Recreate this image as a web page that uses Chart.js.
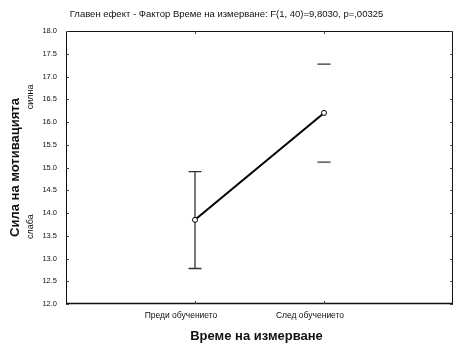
<!DOCTYPE html>
<html><head><meta charset="utf-8">
<script src="https://cdn.jsdelivr.net/npm/chart.js@4"></script>
<style>html,body{margin:0;padding:0;background:#fff;overflow:hidden}#wrap{width:454px;height:343px}</style>
</head><body><div id="wrap"><canvas id="c" width="454" height="343"></canvas></div>
<script>
const categories = ["Преди обучението", "След обучението"];
const means = [13.85, 16.2];
const upperLimits = [14.91, 17.27];
const lowerLimits = [12.78, 15.12];
const yTicks = [12.0, 12.5, 13.0, 13.5, 14.0, 14.5, 15.0, 15.5, 16.0, 16.5, 17.0, 17.5, 18.0];
const titleText = "Главен ефект - Фактор Време на измерване: F(1, 40)=9,8030, p=,00325";
const yTitle = "Сила на мотивацията";
const xTitle = "Време на измерване";
const yHighLabel = "силна";
const yLowLabel = "слаба";

const FONT = "'Liberation Sans', Arial, sans-serif";

const extras = {
  id: 'extras',
  beforeDatasetsDraw(chart) {
    const {ctx, scales: {x, y}} = chart;
    ctx.save();
    ctx.strokeStyle = '#333';
    ctx.lineWidth = 1.3;
    means.forEach((m, i) => {
      const px = x.getPixelForValue(i + 1);
      const pu = y.getPixelForValue(upperLimits[i]);
      const pl = y.getPixelForValue(lowerLimits[i]);
      ctx.beginPath();
      if (i === 0) { ctx.moveTo(px, pu); ctx.lineTo(px, pl); }
      ctx.moveTo(px - 6.5, pu); ctx.lineTo(px + 6.5, pu);
      ctx.moveTo(px - 6.5, pl); ctx.lineTo(px + 6.5, pl);
      ctx.stroke();
    });
    ctx.restore();
  },
  afterDraw(chart) {
    const {ctx, chartArea: a, scales: {x, y}} = chart;
    ctx.save();
    ctx.strokeStyle = '#111';
    ctx.lineWidth = 1;
    ctx.strokeRect(Math.round(a.left) + 0.5, Math.round(a.top) + 0.5, Math.round(a.right - a.left) - 1, Math.round(a.bottom - a.top) - 1);
    ctx.lineWidth = 1.5;
    ctx.beginPath();
    ctx.moveTo(a.left, a.bottom - 0.5); ctx.lineTo(a.right, a.bottom - 0.5);
    ctx.stroke();
    ctx.strokeStyle = '#444';
    ctx.lineWidth = 1;
    ctx.beginPath();
    yTicks.forEach(v => {
      const py = Math.round(y.getPixelForValue(v)) + 0.5;
      ctx.moveTo(a.left, py); ctx.lineTo(a.left + 3, py);
      ctx.moveTo(a.right, py); ctx.lineTo(a.right - 3, py);
    });
    categories.forEach((c, i) => {
      const px = Math.round(x.getPixelForValue(i + 1)) + 0.5;
      ctx.moveTo(px, a.top); ctx.lineTo(px, a.top + 3);
      ctx.moveTo(px, a.bottom); ctx.lineTo(px, a.bottom - 3);
    });
    ctx.stroke();
    ctx.fillStyle = '#111';
    ctx.textAlign = 'center';
    ctx.textBaseline = 'middle';
    ctx.font = 'bold 13px ' + FONT;
    ctx.fillText(xTitle, (a.left + a.right) / 2 - 3, 336);
    ctx.save();
    ctx.translate(15, (a.top + a.bottom) / 2);
    ctx.rotate(-Math.PI / 2);
    ctx.fillText(yTitle, 0, 0);
    ctx.restore();
    ctx.font = '9px ' + FONT;
    ctx.save();
    ctx.translate(31, y.getPixelForValue(16.55));
    ctx.rotate(-Math.PI / 2);
    ctx.fillText(yHighLabel, 0, 0);
    ctx.restore();
    ctx.save();
    ctx.translate(31, y.getPixelForValue(13.7));
    ctx.rotate(-Math.PI / 2);
    ctx.fillText(yLowLabel, 0, 0);
    ctx.restore();
    ctx.restore();
  }
};

new Chart(document.getElementById('c'), {
  type: 'line',
  data: {
    datasets: [{
      data: means.map((m, i) => ({x: i + 1, y: m})),
      borderColor: '#000',
      borderWidth: 2,
      pointRadius: 2.5,
      pointBackgroundColor: '#fff',
      pointBorderColor: '#000',
      pointBorderWidth: 1,
      tension: 0
    }]
  },
  options: {
    responsive: false,
    animation: false,
    devicePixelRatio: 1,
    layout: {autoPadding: false, padding: {left: 0, right: 1, top: 0, bottom: 0}},
    plugins: {
      legend: {display: false},
      tooltip: {enabled: false},
      title: {
        display: true,
        text: titleText,
        color: '#111',
        font: {family: FONT, size: 9.5, weight: 'normal'},
        padding: {top: 8.3, bottom: 11.3}
      }
    },
    scales: {
      x: {
        type: 'linear',
        min: 0, max: 3,
        afterBuildTicks: s => { s.ticks = categories.map((c, i) => ({value: i + 1})); },
        afterFit: s => { s.height = 39; s.paddingLeft = 0; s.paddingRight = 0; },
        grid: {display: false, drawTicks: false},
        border: {display: false},
        ticks: {
          padding: 7,
          labelOffset: -14,
          color: '#111',
          font: {family: FONT, size: 8.5},
          maxRotation: 0,
          autoSkip: false,
          callback: v => categories[v - 1] || ''
        }
      },
      y: {
        type: 'linear',
        min: 12, max: 18,
        afterBuildTicks: s => { s.ticks = yTicks.map(v => ({value: v})); },
        afterFit: s => { s.width = 66; },
        grid: {display: false, drawTicks: false},
        border: {display: false},
        ticks: {
          padding: 9,
          color: '#111',
          font: {family: FONT, size: 7.5},
          autoSkip: false,
          callback: v => Number(v).toFixed(1)
        }
      }
    }
  },
  plugins: [extras]
});
</script>
</body></html>
